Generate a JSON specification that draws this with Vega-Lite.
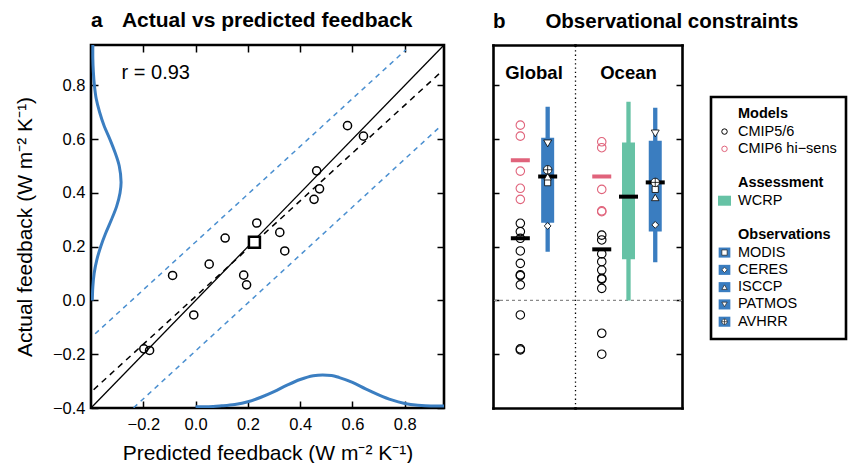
{
  "$schema": "https://vega.github.io/schema/vega-lite/v6.json",
  "padding": {"left": 13, "top": 8, "right": 4, "bottom": 0},
  "config": {
    "font": "Liberation Sans",
    "view": {"stroke": null},
    "title": {"fontSize": 20.5, "fontWeight": "bold", "anchor": "start", "frame": "group", "offset": 13, "color": "black"},
    "axis": {"grid": false, "labelFlush": false, "labelOverlap": false, "tickColor": "black", "labelColor": "black", "titleColor": "black", "domainColor": "black"}
  },
  "datasets": {
    "scatter": [
      {"pred": 0.581, "actual": 0.650}, {"pred": 0.642, "actual": 0.611}, {"pred": 0.463, "actual": 0.482},
      {"pred": 0.474, "actual": 0.415}, {"pred": 0.453, "actual": 0.376}, {"pred": 0.234, "actual": 0.288},
      {"pred": 0.322, "actual": 0.253}, {"pred": 0.113, "actual": 0.232}, {"pred": 0.341, "actual": 0.184},
      {"pred": 0.052, "actual": 0.135}, {"pred": -0.088, "actual": 0.093}, {"pred": 0.184, "actual": 0.094},
      {"pred": 0.195, "actual": 0.058}, {"pred": -0.007, "actual": -0.054}, {"pred": -0.198, "actual": -0.180},
      {"pred": -0.176, "actual": -0.186}
    ],
    "meanpt": [{"pred": 0.225, "actual": 0.216}],
    "refline": [{"x": -0.4, "y": -0.4}, {"x": 0.95, "y": 0.95}],
    "regline": [{"x": -0.39, "y": -0.332}, {"x": 0.937, "y": 0.848}],
    "bands": [
      {"band": "upper", "x": -0.384, "y": -0.124}, {"band": "upper", "x": 0.804, "y": 0.932},
      {"band": "lower", "x": -0.237, "y": -0.399}, {"band": "lower", "x": 0.928, "y": 0.640}
    ],
    "curveLeft": [
      {"x": -0.395, "y": 0.0}, {"x": -0.393, "y": 0.05}, {"x": -0.388, "y": 0.1}, {"x": -0.378, "y": 0.15},
      {"x": -0.363, "y": 0.2}, {"x": -0.344, "y": 0.25}, {"x": -0.322, "y": 0.3}, {"x": -0.302, "y": 0.35},
      {"x": -0.289, "y": 0.4}, {"x": -0.285, "y": 0.44}, {"x": -0.292, "y": 0.5}, {"x": -0.308, "y": 0.55},
      {"x": -0.328, "y": 0.6}, {"x": -0.350, "y": 0.65}, {"x": -0.367, "y": 0.7}, {"x": -0.380, "y": 0.75},
      {"x": -0.387, "y": 0.8}, {"x": -0.391, "y": 0.85}, {"x": -0.393, "y": 0.9}, {"x": -0.393, "y": 0.95}
    ],
    "curveBottom": [
      {"x": 0.0, "y": -0.395}, {"x": 0.05, "y": -0.395}, {"x": 0.1, "y": -0.392}, {"x": 0.15, "y": -0.387},
      {"x": 0.2, "y": -0.377}, {"x": 0.25, "y": -0.36}, {"x": 0.3, "y": -0.339}, {"x": 0.35, "y": -0.315},
      {"x": 0.4, "y": -0.294}, {"x": 0.45, "y": -0.28}, {"x": 0.486, "y": -0.277}, {"x": 0.52, "y": -0.279},
      {"x": 0.55, "y": -0.287}, {"x": 0.6, "y": -0.305}, {"x": 0.65, "y": -0.329}, {"x": 0.7, "y": -0.351},
      {"x": 0.75, "y": -0.37}, {"x": 0.8, "y": -0.383}, {"x": 0.85, "y": -0.39}, {"x": 0.9, "y": -0.393},
      {"x": 0.95, "y": -0.393}
    ],
    "bmodels": [
      {"region": "Global", "kind": "Models", "group": "CMIP6 hi-sens", "value": 0.652},
      {"region": "Global", "kind": "Models", "group": "CMIP6 hi-sens", "value": 0.611},
      {"region": "Global", "kind": "Models", "group": "CMIP6 hi-sens", "value": 0.481},
      {"region": "Global", "kind": "Models", "group": "CMIP6 hi-sens", "value": 0.417},
      {"region": "Global", "kind": "Models", "group": "CMIP6 hi-sens", "value": 0.376},
      {"region": "Global", "kind": "Models", "group": "CMIP5/6", "value": 0.287},
      {"region": "Global", "kind": "Models", "group": "CMIP5/6", "value": 0.256},
      {"region": "Global", "kind": "Models", "group": "CMIP5/6", "value": 0.231},
      {"region": "Global", "kind": "Models", "group": "CMIP5/6", "value": 0.184},
      {"region": "Global", "kind": "Models", "group": "CMIP5/6", "value": 0.138},
      {"region": "Global", "kind": "Models", "group": "CMIP5/6", "value": 0.095},
      {"region": "Global", "kind": "Models", "group": "CMIP5/6", "value": 0.092},
      {"region": "Global", "kind": "Models", "group": "CMIP5/6", "value": 0.058},
      {"region": "Global", "kind": "Models", "group": "CMIP5/6", "value": -0.054},
      {"region": "Global", "kind": "Models", "group": "CMIP5/6", "value": -0.180},
      {"region": "Global", "kind": "Models", "group": "CMIP5/6", "value": -0.184},
      {"region": "Ocean", "kind": "Models", "group": "CMIP6 hi-sens", "value": 0.590},
      {"region": "Ocean", "kind": "Models", "group": "CMIP6 hi-sens", "value": 0.568},
      {"region": "Ocean", "kind": "Models", "group": "CMIP6 hi-sens", "value": 0.413},
      {"region": "Ocean", "kind": "Models", "group": "CMIP6 hi-sens", "value": 0.333},
      {"region": "Ocean", "kind": "Models", "group": "CMIP6 hi-sens", "value": 0.330},
      {"region": "Ocean", "kind": "Models", "group": "CMIP5/6", "value": 0.243},
      {"region": "Ocean", "kind": "Models", "group": "CMIP5/6", "value": 0.225},
      {"region": "Ocean", "kind": "Models", "group": "CMIP5/6", "value": 0.173},
      {"region": "Ocean", "kind": "Models", "group": "CMIP5/6", "value": 0.144},
      {"region": "Ocean", "kind": "Models", "group": "CMIP5/6", "value": 0.113},
      {"region": "Ocean", "kind": "Models", "group": "CMIP5/6", "value": 0.082},
      {"region": "Ocean", "kind": "Models", "group": "CMIP5/6", "value": 0.079},
      {"region": "Ocean", "kind": "Models", "group": "CMIP5/6", "value": 0.045},
      {"region": "Ocean", "kind": "Models", "group": "CMIP5/6", "value": -0.122},
      {"region": "Ocean", "kind": "Models", "group": "CMIP5/6", "value": -0.200}
    ],
    "bmeans": [
      {"region": "Global", "kind": "Models", "group": "CMIP6 hi-sens", "value": 0.521},
      {"region": "Global", "kind": "Models", "group": "All models", "value": 0.231},
      {"region": "Ocean", "kind": "Models", "group": "CMIP6 hi-sens", "value": 0.461},
      {"region": "Ocean", "kind": "Models", "group": "All models", "value": 0.190}
    ],
    "branges": [
      {"region": "Global", "kind": "Observations", "lo": 0.181, "q1": 0.289, "q3": 0.605, "hi": 0.720, "mean": 0.461},
      {"region": "Ocean", "kind": "Assessment", "lo": 0.0, "q1": 0.153, "q3": 0.587, "hi": 0.739, "mean": 0.386},
      {"region": "Ocean", "kind": "Observations", "lo": 0.142, "q1": 0.256, "q3": 0.594, "hi": 0.717, "mean": 0.439}
    ],
    "bobs": [
      {"region": "Global", "kind": "Observations", "dataset": "MODIS", "value": 0.438},
      {"region": "Global", "kind": "Observations", "dataset": "CERES", "value": 0.277},
      {"region": "Global", "kind": "Observations", "dataset": "ISCCP", "value": 0.460},
      {"region": "Global", "kind": "Observations", "dataset": "PATMOS", "value": 0.584},
      {"region": "Global", "kind": "Observations", "dataset": "AVHRR", "value": 0.486},
      {"region": "Ocean", "kind": "Observations", "dataset": "MODIS", "value": 0.413},
      {"region": "Ocean", "kind": "Observations", "dataset": "CERES", "value": 0.281},
      {"region": "Ocean", "kind": "Observations", "dataset": "ISCCP", "value": 0.383},
      {"region": "Ocean", "kind": "Observations", "dataset": "PATMOS", "value": 0.621},
      {"region": "Ocean", "kind": "Observations", "dataset": "AVHRR", "value": 0.439}
    ],
    "legend": [
      {"entry": "Models", "type": "header"},
      {"entry": "CMIP5/6", "type": "model"},
      {"entry": "CMIP6 hi−sens", "type": "hisens"},
      {"entry": "Assessment", "type": "header"},
      {"entry": "WCRP", "type": "assessment"},
      {"entry": "Observations", "type": "header"},
      {"entry": "MODIS", "type": "obs", "dataset": "MODIS"},
      {"entry": "CERES", "type": "obs", "dataset": "CERES"},
      {"entry": "ISCCP", "type": "obs", "dataset": "ISCCP"},
      {"entry": "PATMOS", "type": "obs", "dataset": "PATMOS"},
      {"entry": "AVHRR", "type": "obs", "dataset": "AVHRR"}
    ]
  },
  "spacing": 49,
  "bounds": "flush",
  "hconcat": [
    {
      "width": 353,
      "height": 363,
      "view": {"stroke": "black", "strokeWidth": 2.6},
      "title": {"text": "a\u00a0\u00a0\u00a0\u200aActual vs predicted feedback", "fontSize": 21},
      "layer": [
        {
          "data": {"name": "curveLeft"},
          "mark": {"type": "line", "color": "#3b7ec1", "strokeWidth": 3, "interpolate": "catmull-rom", "clip": true},
          "encoding": {
            "x": {"field": "x", "type": "quantitative", "scale": {"domain": [-0.4, 0.95], "nice": false, "zero": false},
              "axis": {"orient": "bottom", "values": [-0.2, 0, 0.2, 0.4, 0.6, 0.8], "format": ".1f", "domain": false, "ticks": true, "tickSize": -7, "tickWidth": 1.5, "labelFontSize": 16.5, "labelPadding": 15, "title": "Predicted feedback (W m⁻² K⁻¹)", "titleFontSize": 21, "titleFontWeight": "normal", "titlePadding": 10}},
            "y": {"field": "y", "type": "quantitative", "scale": {"domain": [-0.4, 0.95], "nice": false, "zero": false},
              "axis": {"orient": "left", "values": [-0.4, -0.2, 0, 0.2, 0.4, 0.6, 0.8], "format": ".1f", "domain": false, "ticks": true, "tickSize": -7, "tickWidth": 1.5, "labelFontSize": 16.5, "labelPadding": 13, "title": "Actual feedback (W m⁻² K⁻¹)", "titleFontSize": 21, "titleFontWeight": "normal", "titlePadding": 17}},
            "order": {"field": "y", "type": "quantitative"}
          }
        },
        {
          "data": {"name": "curveBottom"},
          "mark": {"type": "line", "color": "#3b7ec1", "strokeWidth": 3, "interpolate": "monotone", "clip": true},
          "encoding": {
            "x": {"field": "x", "type": "quantitative",
              "axis": {"orient": "top", "values": [-0.2, 0, 0.2, 0.4, 0.6, 0.8], "domain": false, "labels": false, "ticks": true, "tickSize": -7, "tickWidth": 1.5, "title": null}},
            "y": {"field": "y", "type": "quantitative",
              "axis": {"orient": "right", "values": [-0.4, -0.2, 0, 0.2, 0.4, 0.6, 0.8], "domain": false, "labels": false, "ticks": true, "tickSize": -7, "tickWidth": 1.5, "title": null}}
          }
        },
        {
          "data": {"name": "bands"},
          "mark": {"type": "line", "color": "#4a8fd0", "strokeWidth": 1.5, "strokeDash": [5, 4.5], "clip": true},
          "encoding": {
            "x": {"field": "x", "type": "quantitative", "axis": null},
            "y": {"field": "y", "type": "quantitative", "axis": null},
            "detail": {"field": "band"}
          }
        },
        {
          "data": {"name": "refline"},
          "mark": {"type": "line", "color": "black", "strokeWidth": 1.3, "clip": true},
          "encoding": {
            "x": {"field": "x", "type": "quantitative", "axis": null},
            "y": {"field": "y", "type": "quantitative", "axis": null}
          }
        },
        {
          "data": {"name": "regline"},
          "mark": {"type": "line", "color": "black", "strokeWidth": 1.5, "strokeDash": [6, 5], "clip": true},
          "encoding": {
            "x": {"field": "x", "type": "quantitative", "axis": null},
            "y": {"field": "y", "type": "quantitative", "axis": null}
          }
        },
        {
          "data": {"name": "scatter"},
          "mark": {"type": "point", "shape": "circle", "filled": false, "stroke": "black", "strokeWidth": 1.5, "size": 66, "opacity": 1},
          "encoding": {
            "x": {"field": "pred", "type": "quantitative", "axis": null},
            "y": {"field": "actual", "type": "quantitative", "axis": null}
          }
        },
        {
          "data": {"name": "meanpt"},
          "mark": {"type": "point", "shape": "square", "filled": true, "fill": "white", "stroke": "black", "strokeWidth": 2.5, "size": 121, "opacity": 1},
          "encoding": {
            "x": {"field": "pred", "type": "quantitative", "axis": null},
            "y": {"field": "actual", "type": "quantitative", "axis": null}
          }
        },
        {
          "data": {"values": [{"label": "r = 0.93"}]},
          "mark": {"type": "text", "align": "left", "baseline": "middle", "fontSize": 20, "color": "black"},
          "encoding": {
            "x": {"datum": -0.283, "type": "quantitative", "axis": null},
            "y": {"datum": 0.845, "type": "quantitative", "axis": null},
            "text": {"field": "label"}
          }
        }
      ],
      "resolve": {"axis": {"x": "independent", "y": "independent"}}
    },
    {
      "title": {"text": "b\u00a0\u00a0\u00a0\u00a0\u00a0\u00a0\u00a0Observational constraints"},
      "spacing": 0,
      "bounds": "flush",
      "hconcat": [
        {
          "width": 82,
          "height": 363,
          "layer": [
            {
              "data": {"values": [{"ref": 0}]},
              "mark": {"type": "rule", "color": "#8a8a8a", "strokeDash": [3, 3], "strokeWidth": 1.2},
              "encoding": {"y": {"field": "ref", "type": "quantitative", "scale": {"domain": [-0.4, 0.95], "nice": false, "zero": false}, "axis": null}}
            },
            {
              "data": {"name": "bmodels"},
              "transform": [{"filter": "datum.region === 'Global'"}],
              "mark": {"type": "point", "shape": "circle", "filled": false, "size": 72, "strokeWidth": 1.1, "opacity": 1},
              "encoding": {
                "x": {"field": "kind", "type": "nominal", "scale": {"type": "point", "domain": ["Models", "Observations"], "padding": 1.14},
                  "axis": {"orient": "bottom", "domain": true, "domainWidth": 2.6, "domainCap": "square", "ticks": false, "labels": false, "title": null}},
                "y": {"field": "value", "type": "quantitative",
                  "axis": {"orient": "left", "values": [-0.2, 0, 0.2, 0.4, 0.6, 0.8], "domain": true, "domainWidth": 2.6, "domainCap": "square", "ticks": true, "tickSize": -6, "tickWidth": 1.5, "labels": false, "title": null}},
                "stroke": {"field": "group", "type": "nominal", "scale": {"domain": ["CMIP5/6", "CMIP6 hi-sens"], "range": ["black", "#e0637b"]}, "legend": null}
              }
            },
            {
              "data": {"name": "bmeans"},
              "transform": [{"filter": "datum.region === 'Global'"}],
              "mark": {"type": "tick", "orient": "horizontal", "size": 19, "thickness": 4, "opacity": 1},
              "encoding": {
                "x": {"field": "kind", "type": "nominal", "axis": null},
                "y": {"field": "value", "type": "quantitative", "axis": null},
                "fill": {"field": "group", "type": "nominal", "scale": {"domain": ["All models", "CMIP6 hi-sens"], "range": ["black", "#e0637b"]}, "legend": null}
              }
            },
            {
              "data": {"name": "branges"},
              "transform": [{"filter": "datum.region === 'Global'"}],
              "mark": {"type": "rule", "strokeWidth": 4.3},
              "encoding": {
                "x": {"field": "kind", "type": "nominal",
                  "axis": {"orient": "top", "domain": true, "domainWidth": 2.6, "domainCap": "square", "ticks": false, "labels": false, "title": null}},
                "y": {"field": "lo", "type": "quantitative", "axis": null},
                "y2": {"field": "hi"},
                "color": {"field": "kind", "type": "nominal", "scale": {"domain": ["Assessment", "Observations"], "range": ["#66c2a5", "#3a7dc0"]}, "legend": null}
              }
            },
            {
              "data": {"name": "branges"},
              "transform": [{"filter": "datum.region === 'Global'"}],
              "mark": {"type": "bar", "size": 13},
              "encoding": {
                "x": {"field": "kind", "type": "nominal", "axis": null},
                "y": {"field": "q1", "type": "quantitative", "axis": null},
                "y2": {"field": "q3"},
                "color": {"field": "kind", "type": "nominal", "legend": null}
              }
            },
            {
              "data": {"name": "branges"},
              "transform": [{"filter": "datum.region === 'Global'"}],
              "mark": {"type": "tick", "orient": "horizontal", "size": 19, "thickness": 4, "color": "black", "opacity": 1},
              "encoding": {
                "x": {"field": "kind", "type": "nominal", "axis": null},
                "y": {"field": "mean", "type": "quantitative", "axis": null}
              }
            },
            {
              "data": {"name": "bobs"},
              "transform": [{"filter": "datum.region === 'Global'"}],
              "mark": {"type": "point", "filled": true, "fill": "white", "stroke": "black", "strokeWidth": 0.8, "opacity": 1},
              "encoding": {
                "x": {"field": "kind", "type": "nominal", "axis": null},
                "y": {"field": "value", "type": "quantitative", "axis": null},
                "shape": {"field": "dataset", "type": "nominal", "scale": {"domain": ["MODIS", "CERES", "ISCCP", "PATMOS", "AVHRR"], "range": ["square", "diamond", "triangle-up", "triangle-down", "M-1,0A1,1,0,1,1,1,0A1,1,0,1,1,-1,0ZM-1,0L1,0M0,-1L0,1"]}, "legend": null},
                "size": {"field": "dataset", "type": "nominal", "scale": {"domain": ["MODIS", "CERES", "ISCCP", "PATMOS", "AVHRR"], "range": [38, 72, 80, 100, 52]}, "legend": null}
              }
            },
            {
              "data": {"values": [{"label": "Global"}]},
              "mark": {"type": "text", "fontSize": 18.5, "fontWeight": "bold", "baseline": "middle", "color": "black"},
              "encoding": {
                "y": {"datum": 0.847, "type": "quantitative", "axis": null},
                "text": {"field": "label"}
              }
            }
          ],
          "resolve": {"axis": {"x": "independent", "y": "independent"}}
        },
        {
          "width": 107,
          "height": 363,
          "layer": [
            {
              "data": {"values": [{"ref": 0}]},
              "mark": {"type": "rule", "color": "#8a8a8a", "strokeDash": [3, 3], "strokeWidth": 1.2},
              "encoding": {"y": {"field": "ref", "type": "quantitative", "scale": {"domain": [-0.4, 0.95], "nice": false, "zero": false}, "axis": null}}
            },
            {
              "data": {"name": "bmodels"},
              "transform": [{"filter": "datum.region === 'Ocean'"}],
              "mark": {"type": "point", "shape": "circle", "filled": false, "size": 72, "strokeWidth": 1.1, "opacity": 1},
              "encoding": {
                "x": {"field": "kind", "type": "nominal", "scale": {"type": "point", "domain": ["Models", "Assessment", "Observations"], "padding": 1.18},
                  "axis": {"orient": "bottom", "domain": true, "domainWidth": 2.6, "domainCap": "square", "ticks": false, "labels": false, "title": null}},
                "y": {"field": "value", "type": "quantitative",
                  "axis": {"orient": "right", "values": [-0.2, 0, 0.2, 0.4, 0.6, 0.8], "domain": true, "domainWidth": 2.6, "domainCap": "square", "ticks": true, "tickSize": -6, "tickWidth": 1.5, "labels": false, "title": null}},
                "stroke": {"field": "group", "type": "nominal", "scale": {"domain": ["CMIP5/6", "CMIP6 hi-sens"], "range": ["black", "#e0637b"]}, "legend": null}
              }
            },
            {
              "data": {"name": "bmeans"},
              "transform": [{"filter": "datum.region === 'Ocean'"}],
              "mark": {"type": "tick", "orient": "horizontal", "size": 19, "thickness": 4, "opacity": 1},
              "encoding": {
                "x": {"field": "kind", "type": "nominal", "axis": null},
                "y": {"field": "value", "type": "quantitative", "axis": null},
                "fill": {"field": "group", "type": "nominal", "scale": {"domain": ["All models", "CMIP6 hi-sens"], "range": ["black", "#e0637b"]}, "legend": null}
              }
            },
            {
              "data": {"name": "branges"},
              "transform": [{"filter": "datum.region === 'Ocean'"}],
              "mark": {"type": "rule", "strokeWidth": 4.3},
              "encoding": {
                "x": {"field": "kind", "type": "nominal",
                  "axis": {"orient": "top", "domain": true, "domainWidth": 2.6, "domainCap": "square", "ticks": false, "labels": false, "title": null}},
                "y": {"field": "lo", "type": "quantitative",
                  "axis": {"orient": "left", "domain": true, "domainWidth": 1.3, "domainDash": [1.3, 3], "ticks": false, "labels": false, "title": null}},
                "y2": {"field": "hi"},
                "color": {"field": "kind", "type": "nominal", "scale": {"domain": ["Assessment", "Observations"], "range": ["#66c2a5", "#3a7dc0"]}, "legend": null}
              }
            },
            {
              "data": {"name": "branges"},
              "transform": [{"filter": "datum.region === 'Ocean'"}],
              "mark": {"type": "bar", "size": 13},
              "encoding": {
                "x": {"field": "kind", "type": "nominal", "axis": null},
                "y": {"field": "q1", "type": "quantitative", "axis": null},
                "y2": {"field": "q3"},
                "color": {"field": "kind", "type": "nominal", "legend": null}
              }
            },
            {
              "data": {"name": "branges"},
              "transform": [{"filter": "datum.region === 'Ocean'"}],
              "mark": {"type": "tick", "orient": "horizontal", "size": 19, "thickness": 4, "color": "black", "opacity": 1},
              "encoding": {
                "x": {"field": "kind", "type": "nominal", "axis": null},
                "y": {"field": "mean", "type": "quantitative", "axis": null}
              }
            },
            {
              "data": {"name": "bobs"},
              "transform": [{"filter": "datum.region === 'Ocean'"}],
              "mark": {"type": "point", "filled": true, "fill": "white", "stroke": "black", "strokeWidth": 0.8, "opacity": 1},
              "encoding": {
                "x": {"field": "kind", "type": "nominal", "axis": null},
                "y": {"field": "value", "type": "quantitative", "axis": null},
                "shape": {"field": "dataset", "type": "nominal", "scale": {"domain": ["MODIS", "CERES", "ISCCP", "PATMOS", "AVHRR"], "range": ["square", "diamond", "triangle-up", "triangle-down", "M-1,0A1,1,0,1,1,1,0A1,1,0,1,1,-1,0ZM-1,0L1,0M0,-1L0,1"]}, "legend": null},
                "size": {"field": "dataset", "type": "nominal", "scale": {"domain": ["MODIS", "CERES", "ISCCP", "PATMOS", "AVHRR"], "range": [38, 72, 80, 100, 52]}, "legend": null}
              }
            },
            {
              "data": {"values": [{"label": "Ocean"}]},
              "mark": {"type": "text", "fontSize": 18.5, "fontWeight": "bold", "baseline": "middle", "color": "black"},
              "encoding": {
                "y": {"datum": 0.847, "type": "quantitative", "axis": null},
                "text": {"field": "label"}
              }
            }
          ],
          "resolve": {"axis": {"x": "independent", "y": "independent"}}
        },
        {
          "spacing": 0,
          "bounds": "flush",
          "hconcat": [
            {
              "width": 29,
              "height": 10,
              "data": {"values": []},
              "mark": {"type": "point", "opacity": 0}
            },
            {
              "spacing": 10,
              "bounds": "flush",
              "vconcat": [
                {
                  "width": 135,
                  "height": 42,
                  "data": {"values": []},
                  "mark": {"type": "point", "opacity": 0}
                },
                {
                  "width": 135,
                  "height": 242,
                  "view": {"stroke": "black", "strokeWidth": 2.6},
                  "data": {"name": "legend"},
                  "encoding": {
                    "y": {"field": "entry", "type": "nominal", "scale": {"type": "point", "domain": ["Models", "CMIP5/6", "CMIP6 hi−sens", "gap1", "Assessment", "WCRP", "gap2", "Observations", "MODIS", "CERES", "ISCCP", "PATMOS", "AVHRR"], "padding": 1.18}, "axis": null}
                  },
                  "layer": [
                    {
                      "transform": [{"filter": "datum.type === 'header'"}],
                      "mark": {"type": "text", "align": "left", "baseline": "middle", "fontSize": 14.5, "fontWeight": "bold", "color": "black"},
                      "encoding": {
                        "x": {"datum": 2, "type": "quantitative", "scale": {"domain": [0, 10], "nice": false, "zero": false}, "axis": null},
                        "text": {"field": "entry"}
                      }
                    },
                    {
                      "transform": [{"filter": "datum.type !== 'header'"}],
                      "mark": {"type": "text", "align": "left", "baseline": "middle", "fontSize": 14.5, "color": "black"},
                      "encoding": {
                        "x": {"datum": 2, "type": "quantitative", "axis": null},
                        "text": {"field": "entry"}
                      }
                    },
                    {
                      "transform": [{"filter": "datum.type === 'model'"}],
                      "mark": {"type": "point", "shape": "circle", "filled": false, "stroke": "black", "strokeWidth": 1, "size": 30, "opacity": 1},
                      "encoding": {"x": {"datum": 1, "type": "quantitative", "axis": null}}
                    },
                    {
                      "transform": [{"filter": "datum.type === 'hisens'"}],
                      "mark": {"type": "point", "shape": "circle", "filled": false, "stroke": "#e0637b", "strokeWidth": 1, "size": 30, "opacity": 1},
                      "encoding": {"x": {"datum": 1, "type": "quantitative", "axis": null}}
                    },
                    {
                      "transform": [{"filter": "datum.type === 'assessment'"}],
                      "mark": {"type": "point", "shape": "M-1,-0.77L1,-0.77L1,0.77L-1,0.77Z", "filled": true, "fill": "#66c2a5", "strokeWidth": 0, "size": 169, "opacity": 1},
                      "encoding": {"x": {"datum": 1, "type": "quantitative", "axis": null}}
                    },
                    {
                      "transform": [{"filter": "datum.type === 'obs'"}],
                      "mark": {"type": "point", "shape": "M-1,-0.86L1,-0.86L1,0.86L-1,0.86Z", "filled": true, "fill": "#3a7dc0", "strokeWidth": 0, "size": 137, "opacity": 1},
                      "encoding": {"x": {"datum": 1, "type": "quantitative", "axis": null}}
                    },
                    {
                      "transform": [{"filter": "datum.type === 'obs'"}],
                      "mark": {"type": "point", "filled": true, "fill": "white", "stroke": "#222222", "strokeWidth": 0.7, "size": 28, "opacity": 1},
                      "encoding": {
                        "x": {"datum": 1, "type": "quantitative", "axis": null},
                        "shape": {"field": "dataset", "type": "nominal", "scale": {"domain": ["MODIS", "CERES", "ISCCP", "PATMOS", "AVHRR"], "range": ["square", "diamond", "triangle-up", "triangle-down", "M-1,0A1,1,0,1,1,1,0A1,1,0,1,1,-1,0ZM-1,0L1,0M0,-1L0,1"]}, "legend": null}
                      }
                    }
                  ]
                }
              ]
            }
          ]
        }
      ]
    }
  ]
}
